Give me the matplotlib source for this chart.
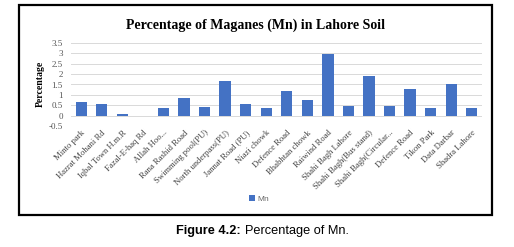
import matplotlib.pyplot as plt
from matplotlib.patches import Rectangle
import numpy as np

# Mn percentage per sampling site
sites = ["Minto park", "Hazrat Mohani Rd", "Iqbal Town H.m.R", "Fazal-E-haq Rd",
         "Allah Hoo...", "Rana Rashid Road", "Swimming pool(PU)", "North underpass(PU)",
         "Jannat Road (PU)", "Niazi chowk", "Defence Road", "Bhabhtan chowk",
         "Raiwind Road", "Shahi Bagh Lahore", "Shahi Bagh(Bus stand)",
         "Shahi Bagh(Circular...", "Defence Road", "Tikon Park", "Data Darbar",
         "Shadra Lahore"]
mn = [0.68, 0.56, 0.08, -0.02, 0.39, 0.85, 0.42, 1.68, 0.56, 0.39,
      1.19, 0.74, 2.95, 0.45, 1.90, 0.45, 1.29, 0.36, 1.53, 0.36]
yticks = [-0.5, 0, 0.5, 1, 1.5, 2, 2.5, 3, 3.5]
ytick_labels = ["-0.5", "0", "0.5", "1", "1.5", "2", "2.5", "3", "3.5"]

W, H = 514, 247
fig = plt.figure(figsize=(W / 100, H / 100), dpi=100)

# chart frame
fig.patches.append(Rectangle((19 / W, 1 - 215 / H), 473 / W, 210 / H,
                             transform=fig.transFigure, fill=False,
                             edgecolor="black", linewidth=1.6))

ax = fig.add_axes([71 / W, 1 - 126 / H, 411 / W, 83 / H])
x = np.arange(len(sites))
ax.bar(x, mn, width=0.55, color="#4472C4", label="Mn", zorder=3)
ax.set_xlim(-0.5, len(sites) - 0.5)
ax.set_ylim(-0.5, 3.5)
ax.set_yticks(yticks)
ax.set_yticklabels(ytick_labels, family="Liberation Serif", fontsize=6.5, color="#555555")
ax.set_xticks(x)
ax.set_xticklabels(sites, rotation=45, ha="right", rotation_mode="anchor",
                   family="Liberation Serif", fontsize=6.2, color="#444444")
ax.tick_params(axis="y", length=0, pad=6)
ax.tick_params(axis="x", length=0, pad=2)
ax.grid(axis="y", color="#d9d9d9", linewidth=0.7, zorder=0)
for s in ax.spines.values():
    s.set_visible(False)

fig.text(255 / W, 1 - 25 / H, "Percentage of Maganes (Mn) in Lahore Soil",
         ha="center", va="center", family="Liberation Serif",
         fontweight="bold", fontsize=10)
fig.text(40 / W, 1 - 84 / H, "Percentage", rotation=90, ha="center", va="center",
         family="Liberation Serif", fontweight="bold", fontsize=7)

fig.legend(loc="center", bbox_to_anchor=(259 / W, 1 - 199 / H), frameon=False,
           prop={"family": "Liberation Sans", "size": 6}, labelcolor="#666666",
           handlelength=0.7, handleheight=0.7, handletextpad=0.3)

# caption
fig.text(241 / W, 1 - 231 / H, "Figure 4.2:", ha="right", va="center",
         family="Liberation Sans", fontweight="bold", fontsize=9.2)
fig.text(245 / W, 1 - 231 / H, "Percentage of Mn.", ha="left", va="center",
         family="Liberation Sans", fontsize=9.2)

fig.savefig("out.png", dpi=100)
